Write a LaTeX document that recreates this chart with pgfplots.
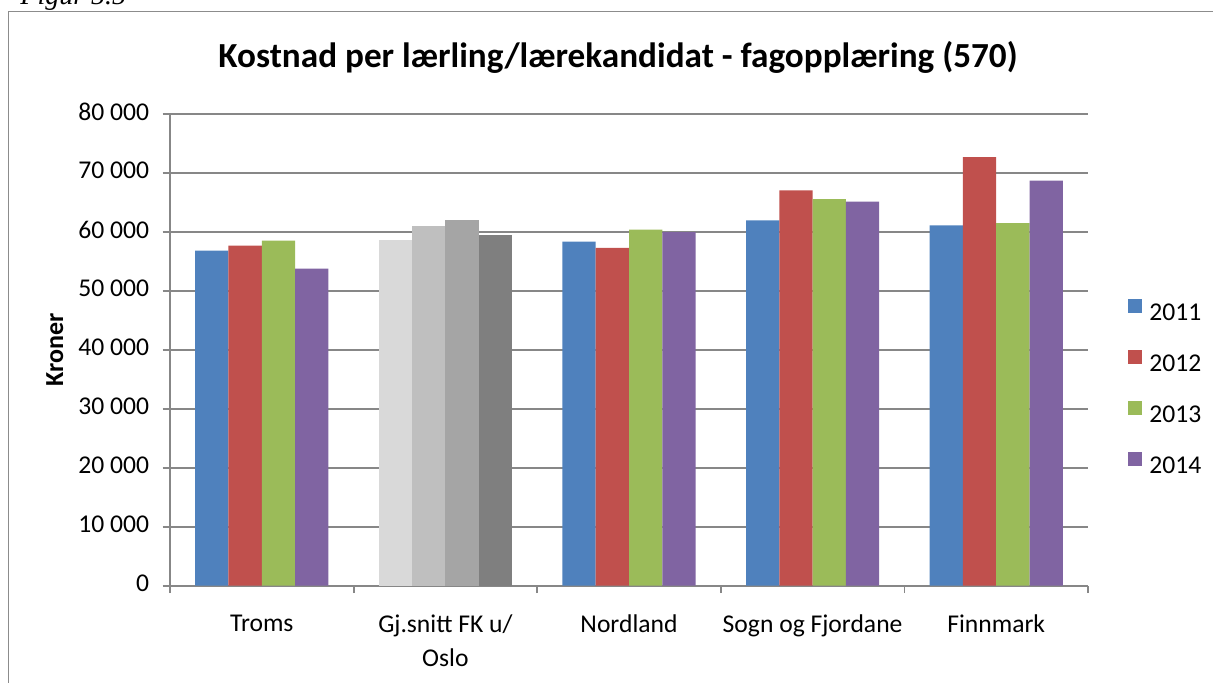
\documentclass[border=0pt]{standalone}
\usepackage{pgfplots}
\pgfplotsset{compat=1.18}
\usepackage{fontspec}
\setmainfont{Carlito}
\newfontfamily\timesfont{Liberation Serif}
\definecolor{c2011}{HTML}{4F81BD}
\definecolor{c2012}{HTML}{C0504D}
\definecolor{c2013}{HTML}{9BBB59}
\definecolor{c2014}{HTML}{8064A2}
\definecolor{g1}{HTML}{D9D9D9}
\definecolor{g2}{HTML}{BFBFBF}
\definecolor{g3}{HTML}{A5A5A5}
\definecolor{g4}{HTML}{7F7F7F}
\definecolor{gridgray}{HTML}{878787}
\definecolor{framegray}{HTML}{8C8C8C}
\begin{document}
\begin{tikzpicture}
\useasboundingbox (0pt,0pt) rectangle (606.5pt,-341pt);
\draw[framegray, line width=0.8pt] (4.25pt,-400pt) -- (4.25pt,-5.75pt) -- (700pt,-5.75pt);
\node[anchor=base west, inner sep=0pt, font=\timesfont\itshape\fontsize{14}{16}\selectfont] at (10pt,-2pt) {Figur 5.5};
\node[anchor=base, inner sep=0pt, font=\bfseries\fontsize{17.6}{20}\selectfont] at (309pt,-33.5pt) {Kostnad per lærling/lærekandidat - fagopplæring (570)};
\node[rotate=90, anchor=base, inner sep=0pt, font=\bfseries\fontsize{13}{15}\selectfont] at (31.5pt,-175pt) {Kroner};
\begin{axis}[
  at={(85pt,-292.85pt)}, anchor=south west,
  width=459pt, height=236pt, scale only axis,
  xmin=-0.5, xmax=4.5, ymin=0, ymax=80000,
  axis x line*=bottom, axis y line*=left,
  axis line style={draw=gridgray, line width=0.9pt},
  ybar, bar width=0.1814,
  xtick={-0.5,0.5,1.5,2.5,3.5,4.5},
  x tick label as interval,
  xticklabels={Troms,{Gj.snitt FK u/\\Oslo},Nordland,Sogn og Fjordane,Finnmark,{}},
  xticklabel style={align=center, anchor=north, inner sep=0pt, yshift=-10.5pt, font=\fontsize{12.8}{17}\selectfont},
  scaled y ticks=false,
  ytick={0,10000,20000,30000,40000,50000,60000,70000,80000},
  yticklabels={0,10 000,20 000,30 000,40 000,50 000,60 000,70 000,80 000},
  yticklabel style={anchor=east, inner sep=0pt, xshift=-6.5pt, yshift=1pt, font=\fontsize{12.8}{15}\selectfont},
  tick align=outside, major tick length=3.75pt,
  tick style={draw=gridgray, line width=0.9pt},
  ymajorgrids, grid style={draw=gridgray, line width=0.9pt},
  legend style={draw=none, fill=none, at={(rel axis cs:1.0436,0.609)}, anchor=north west,
    inner sep=0pt, row sep=13.3pt, column sep=3.5pt, nodes={inner sep=0pt},
    font=\fontsize{12.8}{15}\selectfont},
  legend cell align=left,
  legend image code/.code={\fill[#1, draw=none] (0pt,0.3pt) rectangle (7pt,7.3pt);},
]
\addplot[fill=c2011, draw=none, bar shift=-0.2721] coordinates {(0,56780) (2,58300) (3,61910) (4,61070)};
\addplot[fill=c2012, draw=none, bar shift=-0.0907] coordinates {(0,57630) (2,57240) (3,67000) (4,72660)};
\addplot[fill=c2013, draw=none, bar shift=0.0907] coordinates {(0,58480) (2,60340) (3,65540) (4,61470)};
\addplot[fill=c2014, draw=none, bar shift=0.2721] coordinates {(0,53730) (2,59950) (3,65080) (4,68640)};
\addplot[fill=g1, draw=none, bar shift=-0.2721, forget plot] coordinates {(1,58520)};
\addplot[fill=g2, draw=none, bar shift=-0.0907, forget plot] coordinates {(1,61020)};
\addplot[fill=g3, draw=none, bar shift=0.0907, forget plot] coordinates {(1,61920)};
\addplot[fill=g4, draw=none, bar shift=0.2721, forget plot] coordinates {(1,59490)};
\legend{2011,2012,2013,2014}
\end{axis}
\end{tikzpicture}
\end{document}
